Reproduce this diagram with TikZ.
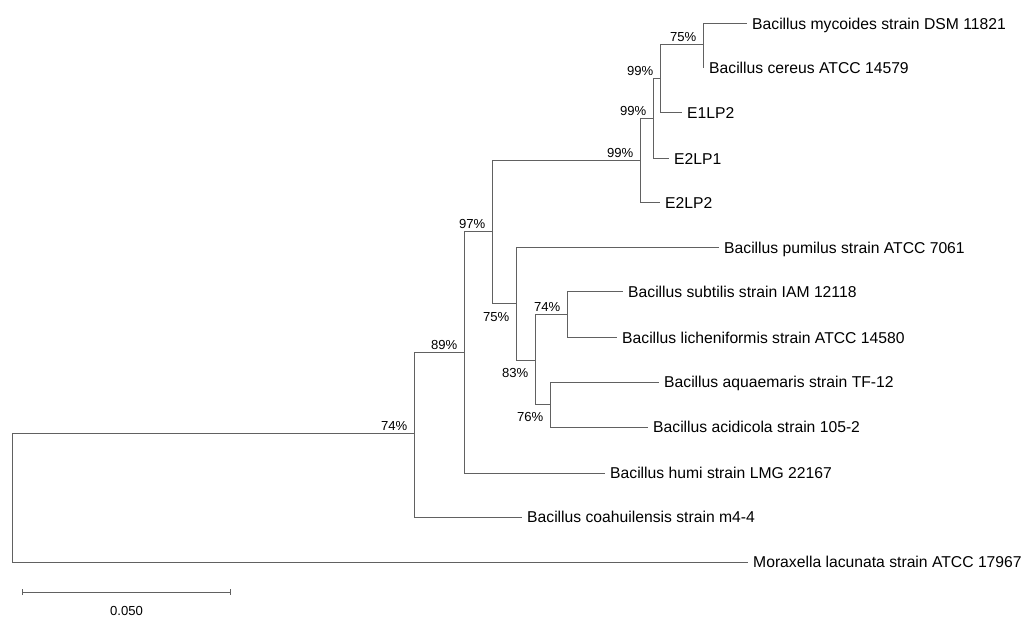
\documentclass[tikz,border=0pt]{standalone}
\usepackage{fontspec}
\setmainfont{Liberation Sans}
\usetikzlibrary{arrows.meta}

\begin{document}
\begin{tikzpicture}[x=1pt, y=-1pt,
        branch/.style={black!62, line width=1pt},
        leaf/.style={anchor=west, inner xsep=5pt, inner ysep=0pt, text height=11.2pt, text depth=0pt, font=\fontsize{15.7}{18}\selectfont},
        bootup/.style={anchor=base east, inner sep=0pt, xshift=-6.5pt, yshift=3pt, font=\fontsize{13.1}{15}\selectfont},
        bootdown/.style={anchor=base east, inner sep=0pt, xshift=-6.5pt, yshift=-17.5pt, font=\fontsize{13.1}{15}\selectfont}]

        \useasboundingbox (0,0) rectangle (1022,617);

        % internal nodes (x = depth, y = stem)
        \coordinate (root) at (12,497);
        \coordinate (nK) at (414,433);
        \coordinate (nA) at (464,352);
        \coordinate (nB) at (492,232);
        \coordinate (nG) at (640,161);
        \coordinate (nH) at (653,119);
        \coordinate (nI) at (660,79);
        \coordinate (nJ) at (703,45);
        \coordinate (nC) at (516,304);
        \coordinate (nD) at (535,360);
        \coordinate (nE) at (567,315);
        \coordinate (nF) at (550,404);

        % taxa
        \node[leaf] (mycoides) at (747,24) {Bacillus mycoides strain DSM 11821};
        \node[leaf] (cereus) at (704,68) {Bacillus cereus ATCC 14579};
        \node[leaf] (e1lp2) at (682,113) {E1LP2};
        \node[leaf] (e2lp1) at (669,159) {E2LP1};
        \node[leaf] (e2lp2) at (660,203) {E2LP2};
        \node[leaf] (pumilus) at (719,248) {Bacillus pumilus strain ATCC 7061};
        \node[leaf] (subtilis) at (623,292) {Bacillus subtilis strain IAM 12118};
        \node[leaf] (licheni) at (617,338) {Bacillus licheniformis strain ATCC 14580};
        \node[leaf] (aquae) at (659,382) {Bacillus aquaemaris strain TF-12};
        \node[leaf] (acidi) at (648,427) {Bacillus acidicola strain 105-2};
        \node[leaf] (humi) at (605,473) {Bacillus humi strain LMG 22167};
        \node[leaf] (coahu) at (522,517) {Bacillus coahuilensis strain m4-4};
        \node[leaf] (morax) at (748,562) {Moraxella lacunata strain ATCC 17967};

        % branches
        \draw[branch] (root) |- (nK);
        \draw[branch] (root) |- (morax.west);
        \draw[branch] (nK) |- (nA);
        \draw[branch] (nK) |- (coahu.west);
        \draw[branch] (nA) |- (nB);
        \draw[branch] (nA) |- (humi.west);
        \draw[branch] (nB) |- (nG);
        \draw[branch] (nB) |- (nC);
        \draw[branch] (nG) |- (nH);
        \draw[branch] (nG) |- (e2lp2.west);
        \draw[branch] (nH) |- (nI);
        \draw[branch] (nH) |- (e2lp1.west);
        \draw[branch] (nI) |- (nJ);
        \draw[branch] (nI) |- (e1lp2.west);
        \draw[branch] (nJ) |- (mycoides.west);
        \draw[branch] (nJ) |- (cereus.west);
        \draw[branch] (nC) |- (pumilus.west);
        \draw[branch] (nC) |- (nD);
        \draw[branch] (nD) |- (nE);
        \draw[branch] (nD) |- (nF);
        \draw[branch] (nE) |- (subtilis.west);
        \draw[branch] (nE) |- (licheni.west);
        \draw[branch] (nF) |- (aquae.west);
        \draw[branch] (nF) |- (acidi.west);

        % bootstrap values
        \node[bootup] (bK) at (nK) {74\%};
        \node[bootup] (bA) at (nA) {89\%};
        \node[bootup] (bB) at (nB) {97\%};
        \node[bootup] (bG) at (nG) {99\%};
        \node[bootup] (bH) at (nH) {99\%};
        \node[bootup] (bI) at (nI) {99\%};
        \node[bootup] (bJ) at (nJ) {75\%};
        \node[bootdown] (bC) at (nC) {75\%};
        \node[bootdown] (bD) at (nD) {83\%};
        \node[bootup] (bE) at (nE) {74\%};
        \node[bootdown] (bF) at (nF) {76\%};

        % scale bar
        \coordinate (sbl) at (22,592);
        \coordinate (sbr) at (231,592);
        \draw[branch, {Bar[width=6pt]}-{Bar[width=6pt]}] (sbl) -- (sbr);
        \node[font=\fontsize{13.1}{15}\selectfont] (sbtext) at (126.5,611) {0.050};
\end{tikzpicture}
\end{document}
